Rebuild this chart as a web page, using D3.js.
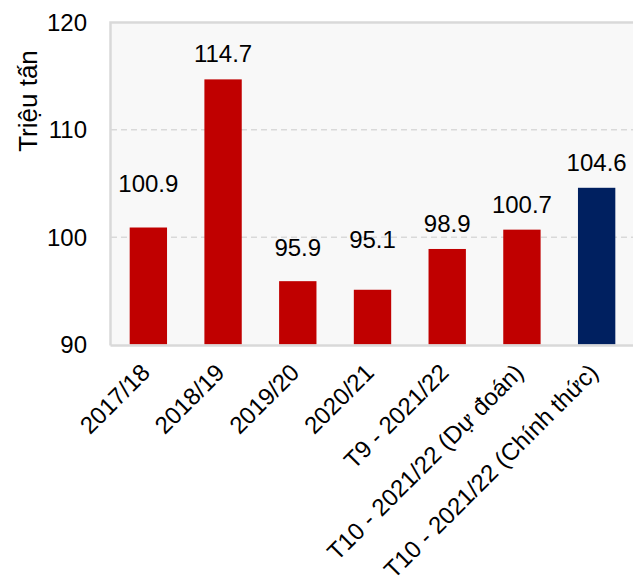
<!DOCTYPE html>
<html lang="vi">
<head>
<meta charset="UTF-8">
<title>Sản lượng - Triệu tấn</title>
<script src="https://d3js.org/d3.v7.min.js"></script>
<style>
  body { margin: 0; background: #fff; }
  svg text { font-family: Arial, "Liberation Sans", sans-serif; fill: #000; }
  .tick-label { font-size: 24px; }
  .axis-title { font-size: 26px; }
  .value-label { font-size: 24px; }
  .cat-label { font-size: 24px; }
</style>
</head>
<body>
<script>
// data
const categories = ["2017/18", "2018/19", "2019/20", "2020/21", "T9 - 2021/22",
                    "T10 - 2021/22 (Dự đoán)", "T10 - 2021/22 (Chính thức)"];
const values = [100.9, 114.7, 95.9, 95.1, 98.9, 100.7, 104.6];
const yTicks = [90, 100, 110, 120];
const highlight = "T10 - 2021/22 (Chính thức)";

// label lift above bar top (px), labels were hand placed in the original
const labelGap = [36, 17, 25, 42, 17, 17, 17];

const width = 633, height = 585;
const plotLeft = 111, plotRight = 634, plotTop = 22.5, plotBottom = 344.5;

const svg = d3.select("body").append("svg")
    .attr("width", width)
    .attr("height", height);

const x = d3.scaleBand()
    .domain(categories)
    .range([plotLeft, plotRight])
    .paddingInner(0.5)
    .paddingOuter(0.25);

const y = d3.scaleLinear()
    .domain([90, 120])
    .range([plotBottom, plotTop]);

// plot background
svg.append("rect")
    .attr("x", plotLeft)
    .attr("y", plotTop)
    .attr("width", plotRight - plotLeft)
    .attr("height", plotBottom - plotTop)
    .attr("fill", "#f8f8f8");

// dashed gridlines
svg.append("g")
    .selectAll("line")
    .data(yTicks.filter(d => d > 90 && d < 120))
    .join("line")
    .attr("x1", plotLeft)
    .attr("x2", plotRight)
    .attr("y1", d => y(d))
    .attr("y2", d => y(d))
    .attr("stroke", "#d9d9d9")
    .attr("stroke-width", 1.5)
    .attr("stroke-dasharray", "6,4");

// bars
svg.append("g")
    .selectAll("rect")
    .data(categories)
    .join("rect")
    .attr("x", d => x(d))
    .attr("y", (d, i) => y(values[i]))
    .attr("width", x.bandwidth())
    .attr("height", (d, i) => y(90) - y(values[i]))
    .attr("fill", d => d === highlight ? "#002060" : "#c00000");

// frame (left, top, bottom)
svg.append("path")
    .attr("d", `M${plotLeft - 0.5},${plotBottom + 1}V${plotTop}H${width}M${plotLeft - 0.5},${plotBottom + 1}H${width}`)
    .attr("fill", "none")
    .attr("stroke", "#d9d9d9")
    .attr("stroke-width", 2.5);

// value labels
svg.append("g")
    .selectAll("text")
    .data(categories)
    .join("text")
    .attr("class", "value-label")
    .attr("x", d => x(d) + x.bandwidth() / 2)
    .attr("y", (d, i) => y(values[i]) - labelGap[i])
    .attr("text-anchor", "middle")
    .text((d, i) => values[i].toFixed(1));

// y axis labels
svg.append("g")
    .selectAll("text")
    .data(yTicks)
    .join("text")
    .attr("class", "tick-label")
    .attr("x", 87)
    .attr("y", d => y(d))
    .attr("dy", "0.35em")
    .attr("text-anchor", "end")
    .text(d => d);

// y title
svg.append("text")
    .attr("class", "axis-title")
    .attr("transform", "translate(37,101) rotate(-90)")
    .attr("text-anchor", "middle")
    .text("Triệu tấn");

// category labels, rotated -45, ending just right of each bar centre
svg.append("g")
    .selectAll("text")
    .data(categories)
    .join("text")
    .attr("class", "cat-label")
    .attr("transform", d => `translate(${x(d) + x.bandwidth() / 2 + 3},374) rotate(-45)`)
    .attr("text-anchor", "end")
    .text(d => d);
</script>
</body>
</html>
